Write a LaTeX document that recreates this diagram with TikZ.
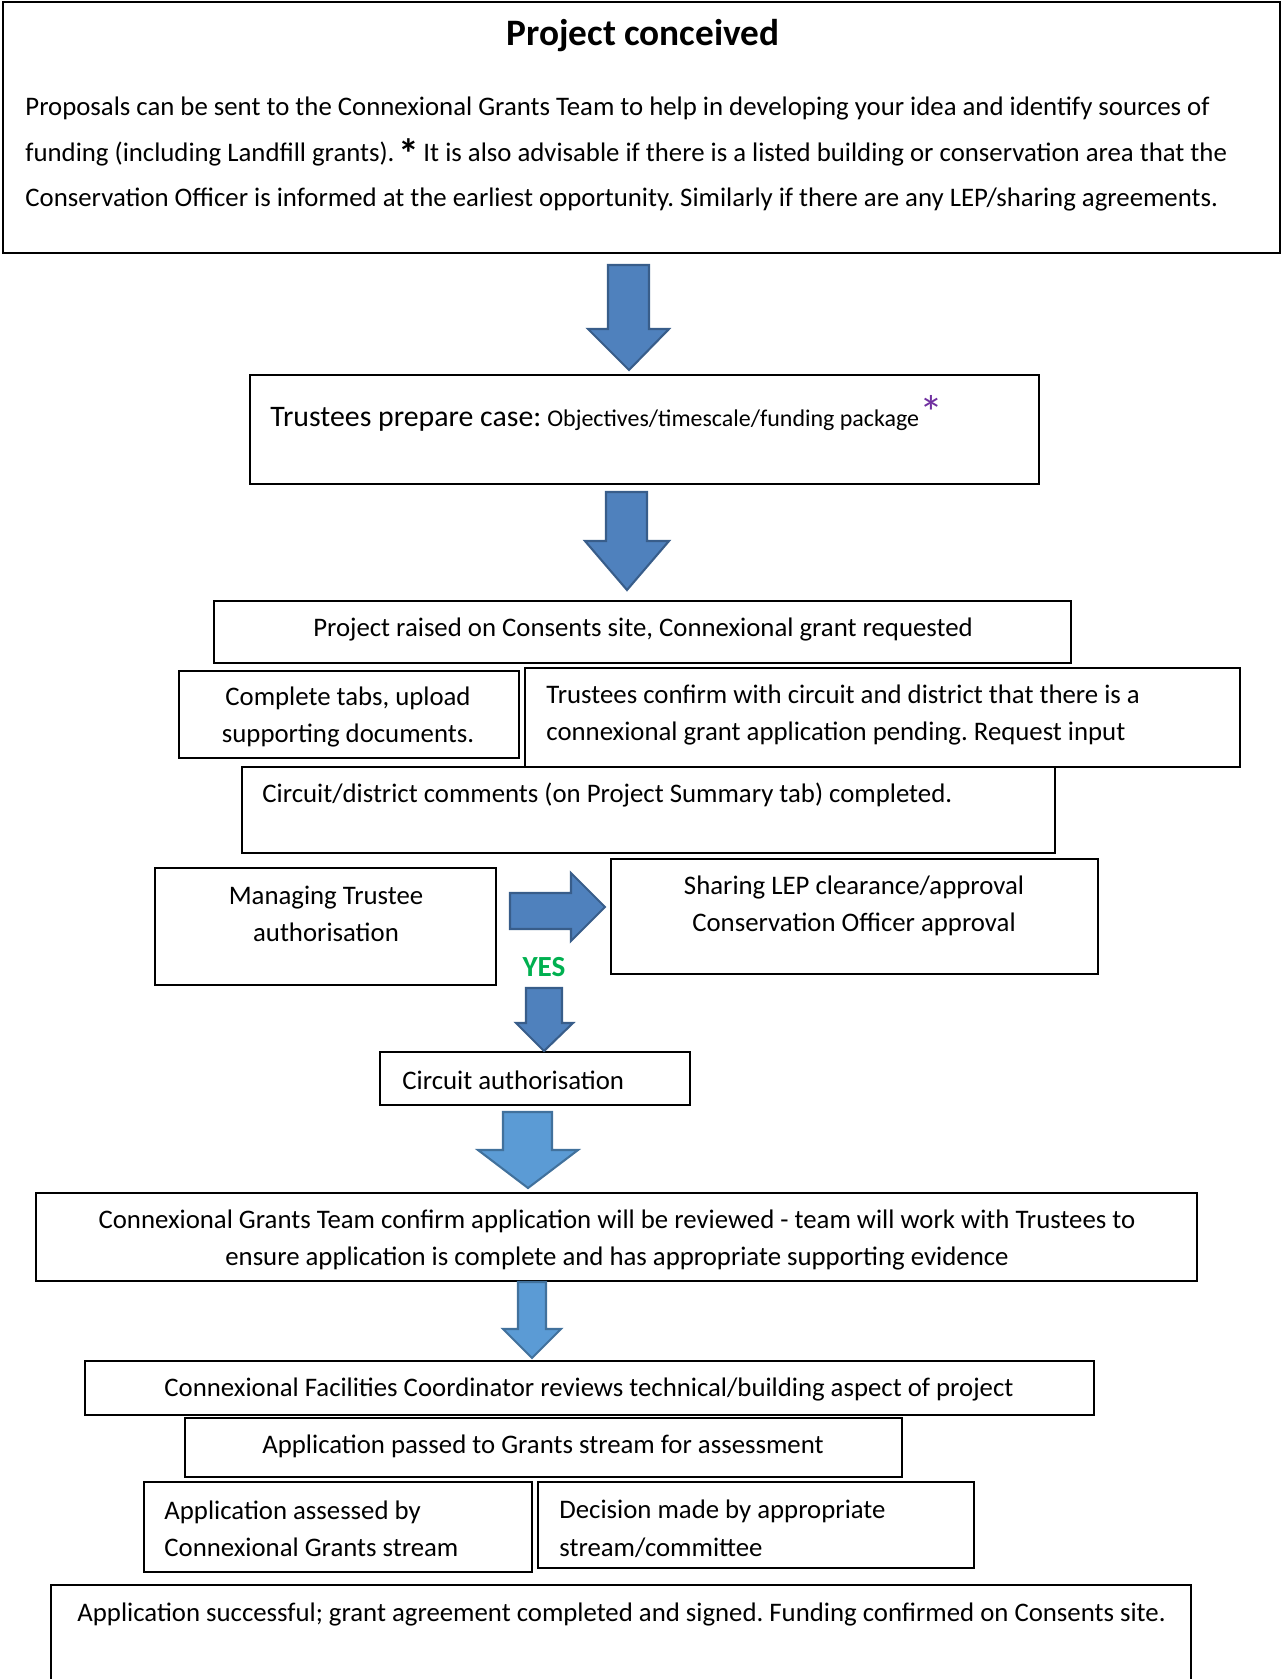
\documentclass[tikz,border=0pt]{standalone}
\usepackage{fontspec}
\setmainfont{Carlito}
\usepackage{xcolor}
\definecolor{arrowblue}{HTML}{4F81BD}
\definecolor{arrowedge}{HTML}{385D8A}
\definecolor{lightarrow}{HTML}{5B9BD5}
\definecolor{lightedge}{HTML}{41719C}
\definecolor{yesgreen}{HTML}{00B050}
\definecolor{starpurple}{HTML}{7030A0}
\usetikzlibrary{positioning, fit}
\frenchspacing

\begin{document}
\begin{tikzpicture}[x=0.016854cm, y=-0.016854cm,
    stage/.style={draw, line width=1pt, inner sep=0pt},
    txt/.style={inner sep=0pt, font=\fontsize{12.85}{18}\selectfont},
    blockarrow/.style={fill=arrowblue, draw=arrowedge, line width=1pt, line join=miter},
    lightblock/.style={fill=lightarrow, draw=lightedge, line width=1pt, line join=miter}
  ]
    \useasboundingbox (0,0) rectangle (1281,1679);

    % Project conceived
    \node[stage, fit={(3,2) (1280,253)}] (concept) {};
    \node[txt, font=\fontsize{17.9}{20}\selectfont\bfseries] (concept-title) at (643,36) {Project conceived};
    \node[txt, anchor=west, align=left, font=\fontsize{12.85}{22}\selectfont] (concept-body) at (25,154)
      {Proposals can be sent to the Connexional Grants Team to help in developing your idea and identify sources of\\
       funding (including Landfill grants).\hspace{0.15em}\raisebox{-3.5pt}{\fontsize{20}{20}\selectfont\bfseries *}\hspace{0.15em}It is also advisable if there is a listed building or conservation area that the\\
       Conservation Officer is informed at the earliest opportunity. Similarly if there are any LEP/sharing agreements.};

    % Trustees prepare case
    \node[stage, fit={(250,375) (1039,484)}] (prepare) {};
    \node[txt, anchor=west] (prepare-t) at (270,413)
      {{\fontsize{14.3}{18}\selectfont Trustees prepare case:} {\fontsize{11.5}{18}\selectfont Objectives/timescale/funding package}\raisebox{-1.5pt}{\textcolor{starpurple}{\fontsize{23}{23}\selectfont *}}};

    % Consents site
    \node[stage, fit={(214,601) (1071,663)}] (raised) {};
    \node[txt] (raised-t) at (643,629) {Project raised on Consents site, Connexional grant requested};
    \node[stage, fit={(179,671) (519,758)}] (tabs) {};
    \node[txt, align=center] (tabs-t) at (348,717) {Complete tabs, upload\\supporting documents.};
    \node[stage, fit={(525,668) (1240,767)}] (confirm) {};
    \node[txt, anchor=west, align=left] (confirm-t) at (546,715)
      {Trustees confirm with circuit and district that there is a\\connexional grant application pending. Request input};
    \node[stage, fit={(242,767) (1055,853)}] (comments) {};
    \node[txt, anchor=west] (comments-t) at (262,795) {Circuit/district comments (on Project Summary tab) completed.};

    % Authorisation
    \node[stage, fit={(155,868) (496,985)}] (managing) {};
    \node[txt, align=center] (managing-t) at (326,914) {Managing Trustee\\authorisation};
    \node[stage, fit={(611,859) (1098,974)}] (sharing) {};
    \node[txt, align=center] (sharing-t) at (854,906) {Sharing LEP clearance/approval\\Conservation Officer approval};
    \node[txt, text=yesgreen, font=\fontsize{14}{16}\selectfont\bfseries] (yes) at (544,967) {YES};
    \node[stage, fit={(380,1052) (690,1105)}] (circuit) {};
    \node[txt, anchor=west] (circuit-t) at (402,1080) {Circuit authorisation};

    % Connexional review
    \node[stage, fit={(36,1193) (1197,1281)}] (review) {};
    \node[txt, align=center] (review-t) at (617,1240)
      {Connexional Grants Team confirm application will be reviewed - team will work with Trustees to\\ensure application is complete and has appropriate supporting evidence};
    \node[stage, fit={(85,1361) (1094,1415)}] (facilities) {};
    \node[txt] (facilities-t) at (589,1389) {Connexional Facilities Coordinator reviews technical/building aspect of project};
    \node[stage, fit={(185,1418) (902,1477)}] (passed) {};
    \node[txt] (passed-t) at (543,1446) {Application passed to Grants stream for assessment};
    \node[stage, fit={(144,1482) (532,1572)}] (assessed) {};
    \node[txt, anchor=west, align=left] (assessed-t) at (164,1529) {Application assessed by\\Connexional Grants stream};
    \node[stage, fit={(538,1482) (974,1568)}] (decision) {};
    \node[txt, anchor=west, align=left] (decision-t) at (559,1529) {Decision made by appropriate\\stream/committee};
    \node[stage, fit={(51,1585) (1191,1685)}] (success) {};
    \node[txt, anchor=west] (success-t) at (77,1614)
      {Application successful; grant agreement completed and signed. Funding confirmed on Consents site.};

    % Block arrows
    \filldraw[blockarrow] (608,265) -- (649,265) -- (649,329) -- (669,329) -- (629,370) -- (588,329) -- (608,329) -- cycle;
    \filldraw[blockarrow] (606,492) -- (647,492) -- (647,541) -- (669,541) -- (627,590) -- (585,541) -- (606,541) -- cycle;
    \filldraw[blockarrow] (510,893) -- (571,893) -- (571,873) -- (605,907) -- (571,941) -- (571,929) -- (510,929) -- cycle;
    \filldraw[blockarrow] (526,988) -- (562,988) -- (562,1023) -- (573,1023) -- (544,1051) -- (516,1023) -- (526,1023) -- cycle;
    \filldraw[lightblock] (503,1112) -- (552,1112) -- (552,1150) -- (578,1150) -- (528,1188) -- (478,1150) -- (503,1150) -- cycle;
    \filldraw[lightblock] (518,1282) -- (546,1282) -- (546,1329) -- (561,1329) -- (532,1358) -- (503,1329) -- (518,1329) -- cycle;
  \end{tikzpicture}
\end{document}
